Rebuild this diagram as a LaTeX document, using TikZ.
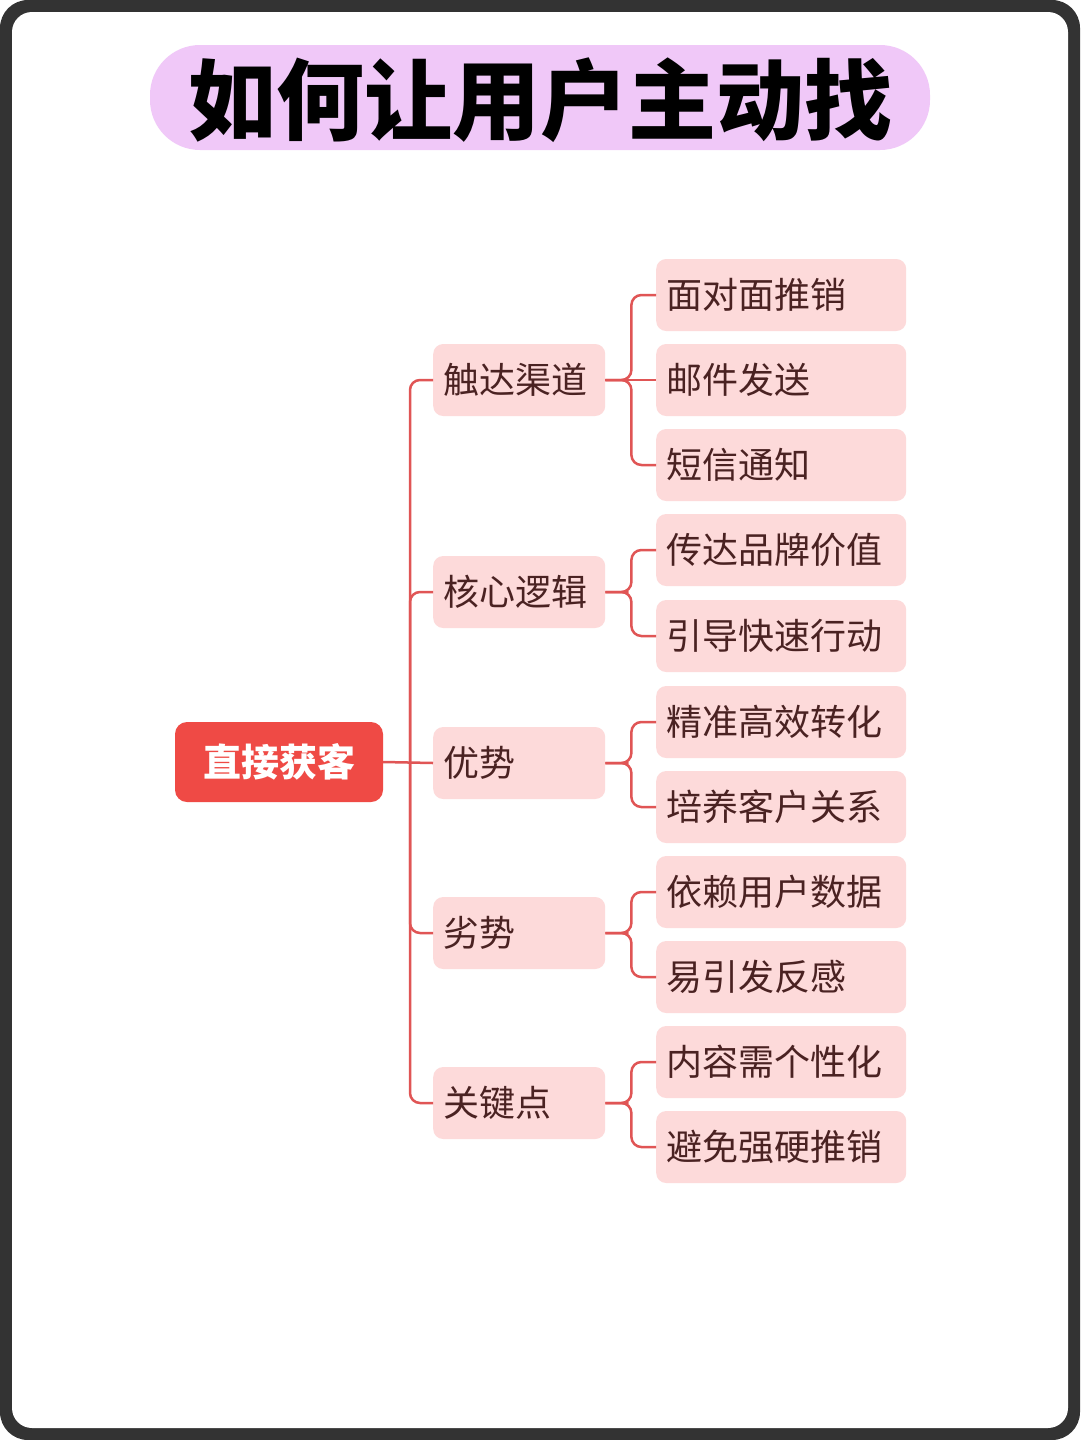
\documentclass[tikz,border=0pt]{standalone}
\usepackage{fontspec}
\newfontfamily\cjk{Noto Sans CJK SC}
\definecolor{frame}{HTML}{333333}
\definecolor{blob}{HTML}{F0C8F8}
\definecolor{rootc}{HTML}{EF4A45}
\definecolor{boxc}{HTML}{FDDADA}
\definecolor{linec}{HTML}{E05555}
\definecolor{txt}{HTML}{4A2222}
\begin{document}
\begin{tikzpicture}[x=1pt,y=-1pt,
  lvl/.style={fill=boxc,rounded corners=10pt,minimum height=72pt,anchor=west,align=left,text=txt,font=\cjk\fontsize{36}{40}\selectfont,inner xsep=10pt},
  lone/.style={lvl,text width=152pt},
  ltwo/.style={lvl,text width=230pt},
  conn/.style={draw=linec,line width=2.5pt,rounded corners=10pt}]
\useasboundingbox (0,0) rectangle (1080,1440);
\fill[frame,rounded corners=28pt] (0,0) rectangle (1080,1440);
\fill[white,rounded corners=20pt] (12,12) rectangle (1068,1428);
\fill[blob,rounded corners=50pt] (150,45) rectangle (930,150);
\node[font=\cjk\bfseries\fontsize{88}{96}\selectfont] (title) at (540,100) {如何让用户主动找};
\node[fill=rootc,rounded corners=12pt,minimum width=208pt,minimum height=80pt,text=white,font=\cjk\bfseries\fontsize{38}{42}\selectfont] (root) at (279,762) {直接获客};
\foreach \n/\t/\y in {a/触达渠道/380,b/核心逻辑/592,c/优势/763,d/劣势/933,e/关键点/1103}
  \node[lone] (\n) at (433,\y) {\t};
\foreach \n/\t/\y in {a1/面对面推销/295,a2/邮件发送/380,a3/短信通知/465,b1/传达品牌价值/550,b2/引导快速行动/636,c1/精准高效转化/722,c2/培养客户关系/807,d1/依赖用户数据/892,d2/易引发反感/977,e1/内容需个性化/1062,e2/避免强硬推销/1147}
  \node[ltwo] (\n) at (656,\y) {\t};
\coordinate (t) at (410,763);
\draw[conn] (root.east) -- (c.west);
\draw[conn] (a.west) -| (t) |- (e.west);
\draw[conn] (t) |- (b.west);
\draw[conn] (t) |- (d.west);
\foreach \p/\k in {a/a1,a/a3,b/b1,b/b2,c/c1,c/c2,d/d1,d/d2,e/e1,e/e2}{
  \draw[conn] (\p.east) -- ++(13,0) coordinate (m) -- ++(13,0) |- (\k.west);
}
\draw[conn] (a.east) -- (a2.west);
\end{tikzpicture}
\end{document}
